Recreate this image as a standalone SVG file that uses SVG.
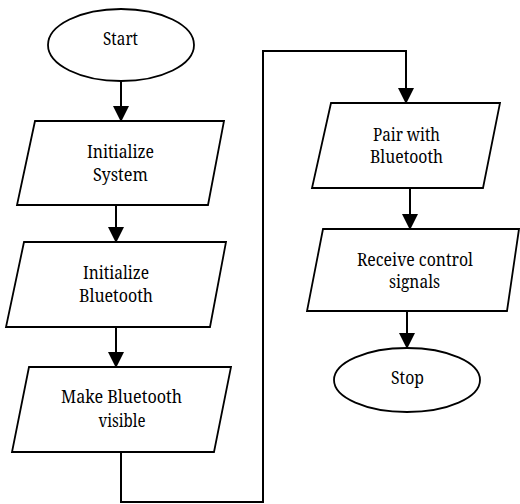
<svg xmlns="http://www.w3.org/2000/svg" width="520" height="504" viewBox="0 0 520 504">
<defs>
<style>
.s{fill:#fff;stroke:#000;stroke-width:1.8}
.t{font-family:'Noto Serif','DejaVu Serif',serif;font-size:17.5px;text-anchor:middle;fill:#000}
.c{fill:none;stroke:#000;stroke-width:2}
</style>
<marker id="a" markerWidth="16" markerHeight="17" refX="15" refY="8" orient="auto" markerUnits="userSpaceOnUse" viewBox="0 0 16 16">
<path d="M0,0 L16,8 L0,16 Z" fill="#000"/>
</marker>
</defs>
<rect width="520" height="504" fill="#fff"/>
<g id="connectors">
<path class="c" d="M121,81 V121" marker-end="url(#a)"/>
<path class="c" d="M116,205 V242" marker-end="url(#a)"/>
<path class="c" d="M116,327 V367" marker-end="url(#a)"/>
<path class="c" d="M121,452 V502 H263 V51 H406 V103" marker-end="url(#a)"/>
<path class="c" d="M410,188 V229" marker-end="url(#a)"/>
<path class="c" d="M407,311 V348" marker-end="url(#a)"/>
</g>
<g id="start">
<ellipse class="s" cx="121" cy="45" rx="73" ry="36"/>
<text class="t" x="120.5" y="45" textLength="35" lengthAdjust="spacingAndGlyphs">Start</text>
</g>
<g id="init-system">
<polygon class="s" points="35,121 224,121 208,205 17,205"/>
<text class="t" x="120.5" y="158" textLength="67" lengthAdjust="spacingAndGlyphs">Initialize</text>
<text class="t" x="120.5" y="181" textLength="55" lengthAdjust="spacingAndGlyphs">System</text>
</g>
<g id="init-bluetooth">
<polygon class="s" points="24,242 226,242 210,327 6,327"/>
<text class="t" x="116" y="279" textLength="66" lengthAdjust="spacingAndGlyphs">Initialize</text>
<text class="t" x="116" y="302" textLength="74" lengthAdjust="spacingAndGlyphs">Bluetooth</text>
</g>
<g id="make-visible">
<polygon class="s" points="29,367 231,367 214,452 12,452"/>
<text class="t" x="121.5" y="403" textLength="121" lengthAdjust="spacingAndGlyphs">Make Bluetooth</text>
<text class="t" x="122" y="427" textLength="47" lengthAdjust="spacingAndGlyphs">visible</text>
</g>
<g id="pair">
<polygon class="s" points="331,103 500,103 483,188 312,188"/>
<text class="t" x="406.5" y="141" textLength="67" lengthAdjust="spacingAndGlyphs">Pair with</text>
<text class="t" x="406.5" y="163" textLength="73" lengthAdjust="spacingAndGlyphs">Bluetooth</text>
</g>
<g id="receive">
<polygon class="s" points="323,229 519,229 507,311 307,311"/>
<text class="t" x="415" y="266" textLength="116" lengthAdjust="spacingAndGlyphs">Receive control</text>
<text class="t" x="414.5" y="288" textLength="51" lengthAdjust="spacingAndGlyphs">signals</text>
</g>
<g id="stop">
<ellipse class="s" cx="407" cy="380" rx="73" ry="32"/>
<text class="t" x="407.5" y="384" textLength="33" lengthAdjust="spacingAndGlyphs">Stop</text>
</g>
</svg>
